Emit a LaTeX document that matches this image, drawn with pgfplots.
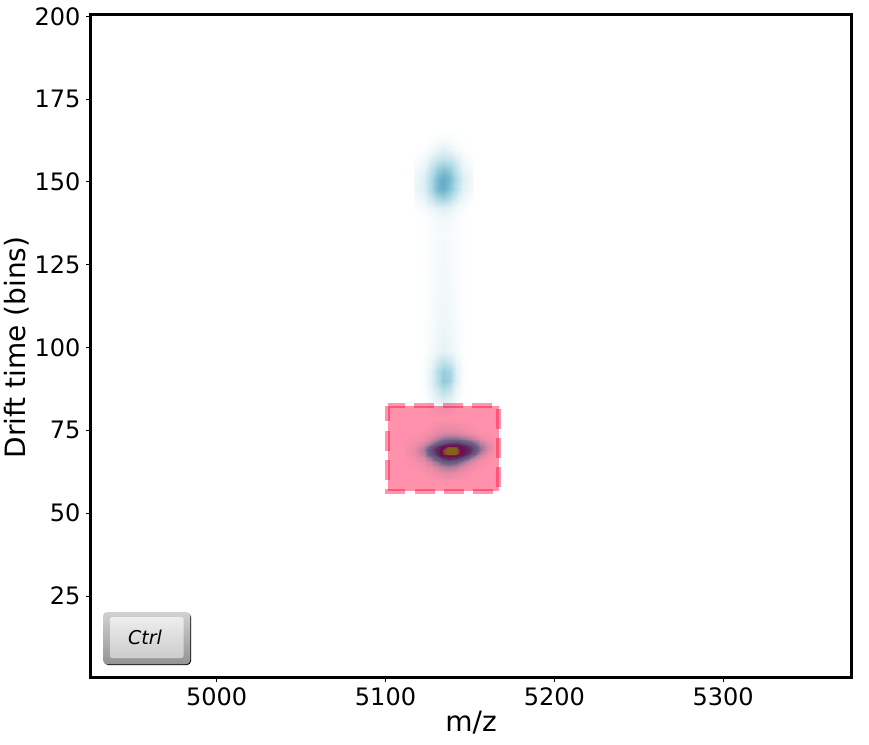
\documentclass[border=0pt]{standalone}
\usepackage{pgfplots}
\pgfplotsset{compat=1.18}
\usepackage{fontspec}
\setmainfont{DejaVu Sans}
\usetikzlibrary{shadings}
\begin{document}
\begin{tikzpicture}[x=1pt,y=1pt]
\useasboundingbox (-90pt,-67pt) rectangle (779pt,677pt);
\begin{axis}[
 at={(1pt,0pt)},anchor=south west,
 scale only axis,width=760pt,height=662pt,
 xmin=4925.5,xmax=5375.8,ymin=0.55,ymax=200.4,
 xtick={5000,5100,5200,5300},
 ytick={25,50,75,100,125,150,175,200},
 /pgf/number format/assume math mode=true,
 /pgf/number format/1000 sep={},
 tick align=outside,tick pos=left,
 major tick length=5pt,
 tick style={black,line width=1pt},
 axis line style={line width=3pt},
 ticklabel style={font=\fontsize{24}{28}\selectfont},
 xticklabel style={yshift=-2pt},
 yticklabel style={xshift=-2pt},
 xlabel={m/z},ylabel={Drift time (bins)},
 label style={font=\fontsize{28}{32}\selectfont},
 xlabel style={yshift=1pt},
 ylabel style={yshift=-1pt,xshift=-1.5pt},
 axis on top,
 colormap={heat}{rgb255(0)=(255,255,255) rgb255(3)=(235,245,248) rgb255(12)=(175,218,230) rgb255(22)=(105,175,200) rgb255(33)=(110,135,185) rgb255(45)=(90,80,145) rgb255(68)=(110,20,125) rgb255(80)=(120,30,110) rgb255(93)=(130,170,45) rgb255(100)=(130,175,40)},
 point meta min=0,point meta max=1,
]
\addplot[surf,shader=interp,mesh/cols=9,point meta=explicit] coordinates {
(5117,166)[0] (5123,166)[0] (5127,166)[0] (5131,166)[0] (5134,166)[0] (5138,166)[0] (5142,166)[0] (5146,166)[0] (5152,166)[0]
(5117,163)[0] (5123,163)[0] (5127,163)[.004] (5131,163)[.008] (5134,163)[.01] (5138,163)[.008] (5142,163)[.004] (5146,163)[0] (5152,163)[0]
(5117,160)[0] (5123,160)[.005] (5127,160)[.018] (5131,160)[.03] (5134,160)[.04] (5138,160)[.03] (5142,160)[.015] (5146,160)[.005] (5152,160)[0]
(5117,157)[.006] (5123,157)[.018] (5127,157)[.05] (5131,157)[.08] (5134,157)[.09] (5138,157)[.08] (5142,157)[.05] (5146,157)[.018] (5152,157)[.003]
(5117,154)[.015] (5123,154)[.035] (5127,154)[.09] (5131,154)[.15] (5134,154)[.17] (5138,154)[.15] (5142,154)[.09] (5146,154)[.035] (5152,154)[.01]
(5117,151)[.022] (5123,151)[.05] (5127,151)[.12] (5131,151)[.2] (5134,151)[.23] (5138,151)[.19] (5142,151)[.12] (5146,151)[.05] (5152,151)[.015]
(5117,148)[.022] (5123,148)[.05] (5127,148)[.12] (5131,148)[.2] (5134,148)[.22] (5138,148)[.17] (5142,148)[.11] (5146,148)[.045] (5152,148)[.015]
(5117,145)[.012] (5123,145)[.03] (5127,145)[.07] (5131,145)[.12] (5134,145)[.14] (5138,145)[.11] (5142,145)[.06] (5146,145)[.025] (5152,145)[.006]
(5117,142)[.004] (5123,142)[.012] (5127,142)[.025] (5131,142)[.04] (5134,142)[.05] (5138,142)[.04] (5142,142)[.02] (5146,142)[.01] (5152,142)[0]
(5117,139)[0] (5123,139)[.004] (5127,139)[.01] (5131,139)[.018] (5134,139)[.02] (5138,139)[.018] (5142,139)[.01] (5146,139)[.004] (5152,139)[0]
(5117,135)[0] (5123,135)[.002] (5127,135)[.007] (5131,135)[.012] (5134,135)[.015] (5138,135)[.012] (5142,135)[.007] (5146,135)[.002] (5152,135)[0]
(5117,130)[0] (5123,130)[.003] (5127,130)[.008] (5131,130)[.014] (5134,130)[.018] (5138,130)[.014] (5142,130)[.008] (5146,130)[.003] (5152,130)[0]
(5117,120)[0] (5123,120)[.003] (5127,120)[.009] (5131,120)[.016] (5134,120)[.02] (5138,120)[.016] (5142,120)[.009] (5146,120)[.003] (5152,120)[0]
(5117,110)[0] (5123,110)[.004] (5127,110)[.011] (5131,110)[.02] (5134,110)[.024] (5138,110)[.02] (5142,110)[.011] (5146,110)[.004] (5152,110)[0]
(5117,104)[0] (5123,104)[.004] (5127,104)[.012] (5131,104)[.024] (5134,104)[.03] (5138,104)[.024] (5142,104)[.012] (5146,104)[.004] (5152,104)[0]
(5117,99)[0] (5123,99)[.004] (5127,99)[.016] (5131,99)[.03] (5134,99)[.04] (5138,99)[.03] (5142,99)[.016] (5146,99)[.004] (5152,99)[0]
(5117,96)[0] (5123,96)[.005] (5127,96)[.028] (5131,96)[.07] (5134,96)[.09] (5138,96)[.07] (5142,96)[.028] (5146,96)[.005] (5152,96)[0]
(5117,93)[0] (5123,93)[.007] (5127,93)[.04] (5131,93)[.11] (5134,93)[.15] (5138,93)[.13] (5142,93)[.045] (5146,93)[.007] (5152,93)[0]
(5117,90)[0] (5123,90)[.007] (5127,90)[.04] (5131,90)[.11] (5134,90)[.16] (5138,90)[.14] (5142,90)[.05] (5146,90)[.007] (5152,90)[0]
(5117,87)[0] (5123,87)[.004] (5127,87)[.028] (5131,87)[.07] (5134,87)[.1] (5138,87)[.08] (5142,87)[.03] (5146,87)[.004] (5152,87)[0]
(5117,84)[0] (5123,84)[0] (5127,84)[.015] (5131,84)[.04] (5134,84)[.05] (5138,84)[.04] (5142,84)[.015] (5146,84)[0] (5152,84)[0]
(5117,81)[0] (5123,81)[0] (5127,81)[.003] (5131,81)[.01] (5134,81)[.012] (5138,81)[.01] (5142,81)[.003] (5146,81)[0] (5152,81)[0]
(5117,78)[0] (5123,78)[0] (5127,78)[0] (5131,78)[0] (5134,78)[0] (5138,78)[0] (5142,78)[0] (5146,78)[0] (5152,78)[0]
};
\addplot[surf,shader=interp,mesh/cols=14,point meta=explicit] coordinates {
(5111,78)[0] (5117,78)[0] (5123,78)[0] (5127,78)[0] (5131,78)[.004] (5134,78)[.006] (5137.5,78)[.006] (5142,78)[.004] (5145.5,78)[0] (5149,78)[0] (5152.5,78)[0] (5156,78)[0] (5161,78)[0] (5165,78)[0]
(5111,75.5)[0] (5117,75.5)[0] (5123,75.5)[.004] (5127,75.5)[.012] (5131,75.5)[.025] (5134,75.5)[.03] (5137.5,75.5)[.03] (5142,75.5)[.028] (5145.5,75.5)[.02] (5149,75.5)[.01] (5152.5,75.5)[.004] (5156,75.5)[0] (5161,75.5)[0] (5165,75.5)[0]
(5111,74)[0] (5117,74)[.003] (5123,74)[.012] (5127,74)[.028] (5131,74)[.05] (5134,74)[.065] (5137.5,74)[.07] (5142,74)[.065] (5145.5,74)[.05] (5149,74)[.035] (5152.5,74)[.02] (5156,74)[.01] (5161,74)[.003] (5165,74)[0]
(5111,72.5)[.002] (5117,72.5)[.008] (5123,72.5)[.025] (5127,72.5)[.06] (5131,72.5)[.12] (5134,72.5)[.17] (5137.5,72.5)[.19] (5142,72.5)[.19] (5145.5,72.5)[.16] (5149,72.5)[.12] (5152.5,72.5)[.08] (5156,72.5)[.04] (5161,72.5)[.012] (5165,72.5)[.002]
(5111,71)[.005] (5117,71)[.018] (5123,71)[.06] (5127,71)[.15] (5131,71)[.28] (5134,71)[.37] (5137.5,71)[.45] (5142,71)[.46] (5145.5,71)[.4] (5149,71)[.32] (5152.5,71)[.22] (5156,71)[.11] (5161,71)[.035] (5165,71)[.006]
(5111,70)[.008] (5117,70)[.025] (5123,70)[.1] (5127,70)[.28] (5131,70)[.46] (5134,70)[.72] (5137.5,70)[.92] (5142,70)[.9] (5145.5,70)[.62] (5149,70)[.46] (5152.5,70)[.32] (5156,70)[.16] (5161,70)[.05] (5165,70)[.01]
(5111,69)[.01] (5117,69)[.03] (5123,69)[.12] (5127,69)[.32] (5131,69)[.5] (5134,69)[.88] (5137.5,69)[1] (5142,69)[.98] (5145.5,69)[.7] (5149,69)[.5] (5152.5,69)[.33] (5156,69)[.16] (5161,69)[.05] (5165,69)[.01]
(5111,68)[.008] (5117,68)[.025] (5123,68)[.1] (5127,68)[.29] (5131,68)[.48] (5134,68)[.85] (5137.5,68)[.98] (5142,68)[.94] (5145.5,68)[.62] (5149,68)[.42] (5152.5,68)[.24] (5156,68)[.1] (5161,68)[.025] (5165,68)[.005]
(5111,67)[.005] (5117,67)[.018] (5123,67)[.06] (5127,67)[.18] (5131,67)[.33] (5134,67)[.47] (5137.5,67)[.55] (5142,67)[.5] (5145.5,67)[.38] (5149,67)[.24] (5152.5,67)[.12] (5156,67)[.05] (5161,67)[.012] (5165,67)[0]
(5111,65.5)[0] (5117,65.5)[.008] (5123,65.5)[.03] (5127,65.5)[.08] (5131,65.5)[.16] (5134,65.5)[.24] (5137.5,65.5)[.27] (5142,65.5)[.23] (5145.5,65.5)[.15] (5149,65.5)[.08] (5152.5,65.5)[.04] (5156,65.5)[.015] (5161,65.5)[.004] (5165,65.5)[0]
(5111,64)[0] (5117,64)[.004] (5123,64)[.014] (5127,64)[.035] (5131,64)[.07] (5134,64)[.1] (5137.5,64)[.12] (5142,64)[.1] (5145.5,64)[.06] (5149,64)[.03] (5152.5,64)[.015] (5156,64)[.006] (5161,64)[0] (5165,64)[0]
(5111,62)[0] (5117,62)[0] (5123,62)[.004] (5127,62)[.012] (5131,62)[.025] (5134,62)[.04] (5137.5,62)[.045] (5142,62)[.035] (5145.5,62)[.02] (5149,62)[.01] (5152.5,62)[.004] (5156,62)[0] (5161,62)[0] (5165,62)[0]
(5111,60)[0] (5117,60)[0] (5123,60)[0] (5127,60)[.003] (5131,60)[.006] (5134,60)[.01] (5137.5,60)[.01] (5142,60)[.008] (5145.5,60)[.004] (5149,60)[0] (5152.5,60)[0] (5156,60)[0] (5161,60)[0] (5165,60)[0]
};
\addplot[blend mode=multiply,draw=none,fill={rgb,255:red,255;green,145;blue,172}] coordinates {(5101.2,82.5) (5167,82.5) (5167,56.6) (5101.2,56.6)} --cycle;
\addplot[blend mode=multiply,line width=5pt,draw={rgb,255:red,255;green,150;blue,175},dash pattern=on 20pt off 9.3pt,dash phase=3pt] coordinates {(5101.2,82.5) (5167,82.5) (5167,56.6) (5101.2,56.6)} --cycle;
\end{axis}
\fill[black,rounded corners=4pt] (14pt,12pt) rectangle (101pt,64pt);
\shade[rounded corners=4pt,top color=black!18,bottom color=black!42] (13pt,12.7pt) rectangle (100.3pt,65pt);
\shade[rounded corners=2pt,top color=black!7,bottom color=black!20] (20pt,19pt) rectangle (93.5pt,60pt);
\node[font=\fontsize{19}{22}\selectfont\itshape,text=black] at (55pt,39.5pt) {Ctrl};
\end{tikzpicture}
\end{document}
